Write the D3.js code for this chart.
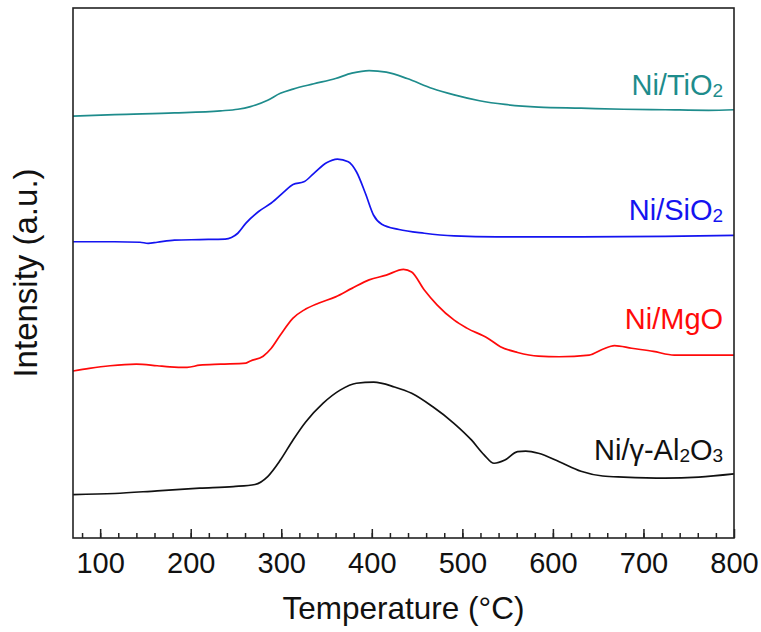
<!DOCTYPE html>
<html>
<head>
<meta charset="utf-8">
<script src="https://cdn.jsdelivr.net/npm/d3@7"></script>
<style>
  html, body { margin: 0; padding: 0; background: #fff; }
  svg text { font-family: "Liberation Sans", Arial, sans-serif; }
</style>
</head>
<body>
<svg id="chart" width="761" height="632"></svg>
<script>
// TPR profiles: temperature (°C) and stacked intensity (a.u.)
const tempTiO2 = [70, 116, 182, 233, 252, 266, 285, 299, 313, 336, 360, 378, 397, 416, 439, 467, 491, 519, 547, 584, 631, 678, 724, 772, 800];
const intTiO2  = [7.96, 7.99, 8.02, 8.06, 8.09, 8.14, 8.26, 8.39, 8.47, 8.57, 8.67, 8.77, 8.82, 8.79, 8.67, 8.48, 8.36, 8.25, 8.18, 8.13, 8.11, 8.09, 8.08, 8.07, 8.08];

const tempSiO2 = [70, 116, 144, 153, 163, 182, 210, 238, 245, 252, 261, 275, 289, 303, 313, 325, 336, 350, 362, 374, 383, 393, 402, 411, 430, 458, 491, 538, 631, 724, 800];
const intSiO2  = [5.59, 5.59, 5.58, 5.56, 5.58, 5.62, 5.63, 5.64, 5.67, 5.75, 5.94, 6.16, 6.32, 6.53, 6.67, 6.72, 6.88, 7.08, 7.15, 7.10, 6.91, 6.50, 6.09, 5.92, 5.82, 5.75, 5.70, 5.68, 5.68, 5.69, 5.71];

const tempMgO = [70, 88, 111, 140, 163, 177, 196, 210, 233, 261, 266, 280, 289, 299, 313, 325, 341, 360, 378, 397, 416, 435, 444, 458, 472, 491, 505, 528, 542, 561, 584, 607, 640, 655, 668, 687, 711, 734, 772, 800];
const intMgO  = [3.15, 3.20, 3.25, 3.28, 3.25, 3.23, 3.22, 3.26, 3.28, 3.30, 3.34, 3.43, 3.58, 3.83, 4.15, 4.30, 4.43, 4.55, 4.71, 4.87, 4.96, 5.07, 5.02, 4.68, 4.40, 4.11, 3.96, 3.77, 3.61, 3.50, 3.43, 3.42, 3.45, 3.56, 3.63, 3.58, 3.52, 3.45, 3.45, 3.45];

const tempAl2O3 = [70, 116, 163, 210, 247, 271, 285, 299, 313, 327, 346, 365, 383, 402, 425, 444, 467, 491, 510, 524, 535, 547, 561, 570, 584, 607, 631, 655, 678, 724, 761, 800];
const intAl2O3  = [0.82, 0.84, 0.89, 0.94, 0.97, 1.01, 1.16, 1.47, 1.85, 2.19, 2.54, 2.79, 2.92, 2.94, 2.85, 2.73, 2.48, 2.16, 1.85, 1.57, 1.41, 1.47, 1.63, 1.64, 1.60, 1.44, 1.26, 1.17, 1.15, 1.13, 1.15, 1.21];

const xTickValues = [100, 200, 300, 400, 500, 600, 700, 800];

const series = [
  { name: ["Ni/TiO", "2"],                 temp: tempTiO2,  value: intTiO2,  color: "#1e8c8c", labelY: 8.35 },
  { name: ["Ni/SiO", "2"],                 temp: tempSiO2,  value: intSiO2,  color: "#1414f0", labelY: 6.0 },
  { name: ["Ni/MgO"],                      temp: tempMgO,   value: intMgO,   color: "#ff0a0a", labelY: 3.94 },
  { name: ["Ni/\u03b3-Al", "2", "O", "3"], temp: tempAl2O3, value: intAl2O3, color: "#111111", labelY: 1.48 }
];

const svg = d3.select("#chart");
const margin = { left: 73, right: 27, top: 8, bottom: 94 };
const W = 761, H = 632;
const x = d3.scaleLinear().domain([70, 800]).range([margin.left, W - margin.right]);
const y = d3.scaleLinear().domain([0, 10]).range([H - margin.bottom, margin.top]);

// curves
const line = d3.line().curve(d3.curveMonotoneX);
series.forEach(s => {
  const pts = s.temp.map((t, i) => [x(t), y(s.value[i])]);
  svg.append("path")
    .attr("d", line(pts))
    .attr("fill", "none")
    .attr("stroke", s.color)
    .attr("stroke-width", 1.7)
    .attr("stroke-linejoin", "round");
});

// series labels, right aligned; odd parts are subscripts
series.forEach(s => {
  const t = svg.append("text")
    .attr("x", x(788))
    .attr("y", y(s.labelY))
    .attr("text-anchor", "end")
    .attr("font-size", 29)
    .attr("fill", s.color);
  s.name.forEach((p, i) => {
    const sub = i % 2 === 1;
    t.append("tspan")
      .attr("font-size", sub ? 19 : 29)
      .attr("dy", sub ? 2 : (i > 0 ? -2 : 0))
      .text(p);
  });
});

// frame
svg.append("rect")
  .attr("x", margin.left).attr("y", margin.top)
  .attr("width", W - margin.left - margin.right)
  .attr("height", H - margin.top - margin.bottom)
  .attr("fill", "none").attr("stroke", "#222").attr("stroke-width", 1.6);

// bottom axis: minor ticks every 20, major ticks with labels every 100
const axisY = H - margin.bottom;
const gMin = svg.append("g").attr("transform", `translate(0,${axisY})`);
gMin.call(d3.axisBottom(x).tickValues(d3.range(80, 800, 20)).tickSizeInner(-5).tickSizeOuter(0).tickFormat(""))
  .call(g => g.select(".domain").remove());
const gMaj = svg.append("g").attr("transform", `translate(0,${axisY})`);
gMaj.call(d3.axisBottom(x).tickValues(xTickValues).tickSizeInner(-9).tickSizeOuter(0).tickPadding(14).tickFormat(d3.format("d")))
  .call(g => g.select(".domain").remove());
svg.selectAll(".tick line").attr("stroke", "#222").attr("stroke-width", 1.5);
gMaj.selectAll(".tick text").attr("font-size", 29).attr("fill", "#111")
  .attr("font-family", "Liberation Sans, Arial, sans-serif");

// axis titles
svg.append("text")
  .attr("x", (margin.left + W - margin.right) / 2)
  .attr("y", 619)
  .attr("text-anchor", "middle")
  .attr("font-size", 31.5)
  .attr("fill", "#111")
  .text("Temperature (\u00b0C)");

svg.append("text")
  .attr("transform", `translate(37,${(margin.top + H - margin.bottom) / 2}) rotate(-90)`)
  .attr("text-anchor", "middle")
  .attr("font-size", 33)
  .attr("fill", "#111")
  .text("Intensity (a.u.)");
</script>
</body>
</html>
